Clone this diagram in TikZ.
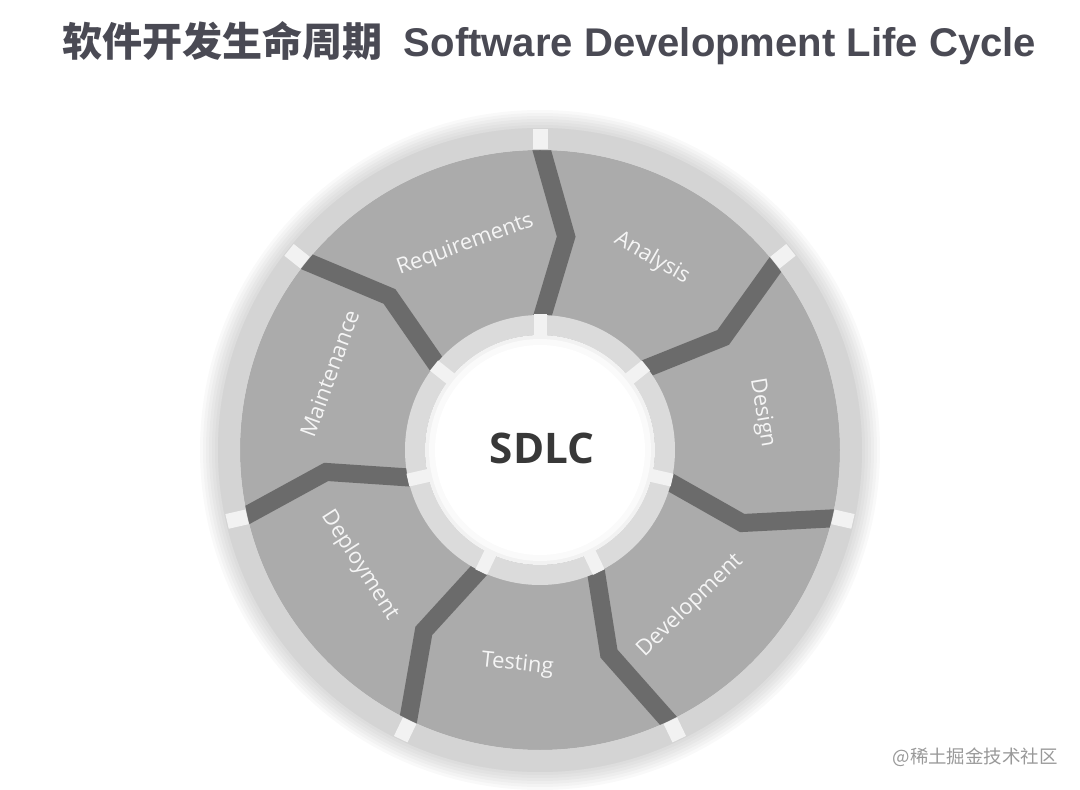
\documentclass[tikz,border=0pt]{standalone}
\usepackage{fontspec}
\setmainfont{Liberation Sans}
\newfontfamily\cjkfont{Noto Sans CJK SC}
\newfontfamily\labelfont{Open Sans}
\usepackage{xcolor}
\usetikzlibrary{positioning}
\definecolor{titlegray}{HTML}{4A4A54}

\begin{document}
\begin{tikzpicture}[
    x=0.02cm, y=0.02cm,
    wedge/.style={fill=black!33},
    sepline/.style={draw=black!58, line width=0.36cm, line join=miter},
    ringband/.style={draw=black!17, line width=0.44cm},
    innerband/.style={draw=black!14, line width=0.4cm},
    gapline/.style={draw=black!5, line width=0.3cm},
    phase/.style={text=black!4, font=\labelfont\fontsize{12.5}{15}\selectfont, inner sep=0pt},
]
\useasboundingbox (0,0) rectangle (1080,789);

% Title
\node[anchor=base west, inner sep=0pt, text=titlegray] (title) at (62,732)
  {{\cjkfont\bfseries\fontsize{22.8}{27}\selectfont 软件开发生命周期}\hspace{12pt}{\bfseries\fontsize{22.8}{27}\selectfont Software Development Life Cycle}};

\begin{scope}[shift={(540,339)}]
% soft shadow round the wheel
\foreach \r in {340,337,...,322} \fill[black, opacity=0.022] (0,0) circle (\r);
% segments
\fill[wedge] (0,0) circle (300);
% separators
\foreach \i in {0,...,6} {
  \pgfmathsetmacro\a{90-\i*360/7}
  \pgfmathsetmacro\b{\a-7}
  \draw[sepline] (\a:126) -- (\b:215) -- (\a:306);
}
% outer and inner bands
\draw[ringband] (0,0) circle (311);
\draw[innerband] (0,0) circle (125);
\foreach \i in {0,...,6} {
  \pgfmathsetmacro\a{90-\i*360/7}
  \draw[gapline] (\a:300.5) -- (\a:321);
  \draw[gapline, line width=0.26cm] (\a:114) -- (\a:135.5);
}
% hub
\fill[black!5] (0,0) circle (115);
\fill[black!2] (0,0) circle (111);
\fill[white] (0,0) circle (105);

% Phases
\node[phase, rotate=20] (req) at (110:218) {Requirements};
\node[phase, rotate=-30] (ana) at (59.7:222) {Analysis};
\node[phase, rotate=-80.5] (des) at (9.5:225) {Design};
\node[phase, rotate=44] (dev) at (-46:216) {Development};
\node[phase, rotate=-6] (tst) at (-96:216) {Testing};
\node[phase, rotate=-57.4] (dep) at (-147.4:214) {Deployment};
\node[phase, rotate=70] (mnt) at (160:224) {Maintenance};
\node[font=\labelfont\bfseries\fontsize{24}{28}\selectfont, text=black!78] (sdlc) at (2,2) {SDLC};
\end{scope}

% Watermark
\node[anchor=east, inner sep=0pt, text=black!40, font=\cjkfont\fontsize{10.5}{12}\selectfont] (mark) at (1058,32) {@稀土掘金技术社区};
\end{tikzpicture}
\end{document}
